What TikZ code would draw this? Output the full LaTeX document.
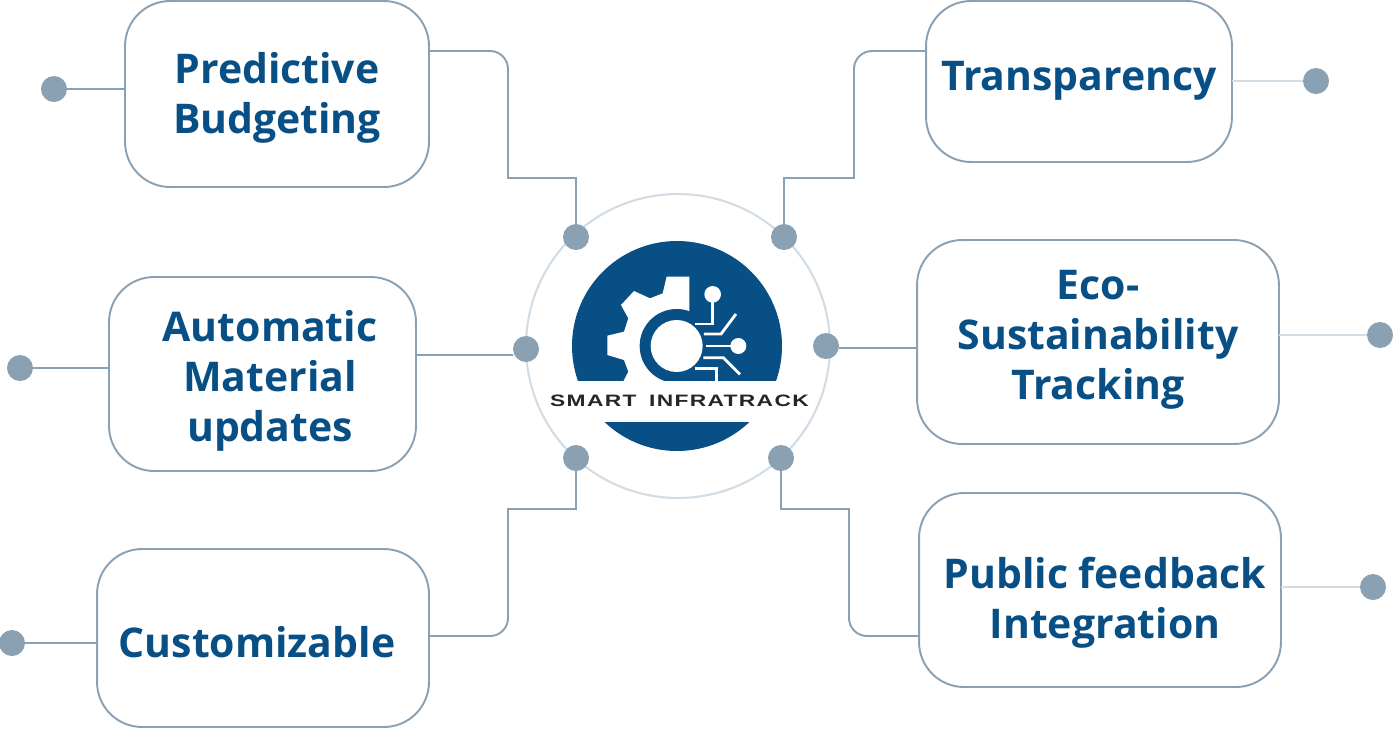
\documentclass[tikz,border=0pt]{standalone}
\usepackage{xcolor}
\usepackage{fontspec}
\setmainfont{Open Sans}
\newfontfamily\logofont[FakeStretch=1.38,LetterSpace=8]{Liberation Sans Bold}
\usetikzlibrary{positioning, calc}
\definecolor{itnavy}{HTML}{084F85}
\definecolor{itslate}{HTML}{8AA0B3}
\definecolor{itmist}{HTML}{D2DCE4}

\begin{document}
\begin{tikzpicture}[
  x=0.02cm, y=-0.02cm,
  featurebox/.style={rectangle, rounded corners=0.9cm, draw=itslate, line width=1.1pt, fill=white, outer sep=0pt},
  featuretext/.style={font=\fontsize{23.3}{28.45}\selectfont\bfseries, text=itnavy, align=center},
  pindot/.style={circle, fill=itslate, minimum size=0.52cm, inner sep=0pt, outer sep=0pt},
  link/.style={draw=itslate, line width=1.1pt},
  faintlink/.style={draw=itmist, line width=1.1pt},
  circuit/.style={draw=white, line width=1.6pt}
]
  \useasboundingbox (0,0) rectangle (1393,728);

  % Hub ring and its dots
  \node[circle, draw=itmist, line width=1.2pt, minimum size=6.08cm, inner sep=0pt] (hub) at (678,346) {};
  \node[pindot] (hubnw) at (576,237) {};
  \node[pindot] (hubne) at (784,237) {};
  \node[pindot] (hubw) at (526,349) {};
  \node[pindot] (hube) at (826,346) {};
  \node[pindot] (hubsw) at (576,458) {};
  \node[pindot] (hubse) at (781,458) {};

  % Logo in the middle of the ring
  \fill[itnavy] (677,346) circle (105);
  \begin{scope}[shift={(520,190)}, x=0.00667cm, y=-0.00667cm]
    \fill[white] (508,260) -- (440,260) -- (428,310) -- (390,325) -- (342,303) -- (303,345) -- (325,385)
      -- (312,425) -- (262,437) -- (262,495) -- (312,510) -- (325,545) -- (310,574) -- (440,574) -- (508,400) -- cycle;
    \fill[itnavy] (470,468) circle (111);
    \fill[white] (470,468) circle (78);
    \draw[circuit] (578,313) -- (578,402) -- (526,402);
    \draw[circuit] (648,372) -- (603,432) -- (552,432);
    \draw[circuit] (655,468) -- (558,468);
    \draw[circuit] (660,553) -- (610,503) -- (550,503);
    \draw[circuit] (590,574) -- (590,535) -- (525,535);
    \fill[white] (578,313) circle (25);
    \fill[white] (655,468) circle (24);
  \end{scope}
  \fill[white] (560,381) rectangle (795,422);
  \node[font=\logofont\fontsize{9.4}{10}\selectfont, text=black!85, inner sep=0pt] (logotext) at (679.5,401) {SMART\hspace{0.1cm} INFRATRACK};

  % Feature boxes, left side
  \node[featurebox, minimum width=6.08cm, minimum height=3.72cm] (budget) at (277,94) {};
  \node[featuretext] (budgettext) at (277,98) {Predictive\\Budgeting};
  \node[featurebox, minimum width=6.14cm, minimum height=3.88cm] (material) at (262.5,374) {};
  \node[featuretext] (materialtext) at (270,381) {Automatic\\Material\\updates};
  \node[featurebox, minimum width=6.64cm, minimum height=3.56cm] (custom) at (263,638) {};
  \node[featuretext] (customtext) at (257,642) {Customizable};

  % Feature boxes, right side
  \node[featurebox, minimum width=6.12cm, minimum height=3.22cm] (transparency) at (1079,81.5) {};
  \node[featuretext] (transparencytext) at (1079,81) {Transparency};
  \node[featurebox, minimum width=7.24cm, minimum height=4.08cm] (eco) at (1098,342) {};
  \node[featuretext] (ecotext) at (1098,340) {Eco-\\Sustainability\\Tracking};
  \node[featurebox, minimum width=7.24cm, minimum height=3.88cm] (public) at (1100,590) {};
  \node[featuretext] (publictext) at (1105,603) {Public feedback\\Integration};

  % Outer dots
  \node[pindot] (budgetdot) at (54,89) {};
  \node[pindot] (materialdot) at (20,368) {};
  \node[pindot] (customdot) at (12,643) {};
  \node[pindot] (transparencydot) at (1316,81) {};
  \node[pindot] (ecodot) at (1380,335) {};
  \node[pindot] (publicdot) at (1373,587) {};

  % Outer stubs
  \draw[link] (budgetdot) -- (budgetdot -| budget.west);
  \draw[link] (materialdot) -- (materialdot -| material.west);
  \draw[link] (customdot) -- (customdot -| custom.west);
  \draw[faintlink] (transparencydot) -- (transparencydot -| transparency.east);
  \draw[faintlink] (ecodot) -- (ecodot -| eco.east);
  \draw[faintlink] (publicdot) -- (publicdot -| public.east);

  % Connectors into the hub, only the first bend is rounded
  \draw[link, rounded corners=0.36cm] ([yshift=0.86cm]budget.east) -- (508,51)
    [sharp corners] -- (508,178) -| (hubnw.north);
  \draw[link, rounded corners=0.36cm] ([yshift=0.61cm]transparency.west) -- (854,51)
    [sharp corners] -- (854,178) -| (hubne.north);
  \draw[link, rounded corners=0.36cm] ([yshift=0.04cm]custom.east) -- (508,636)
    [sharp corners] -- (508,509) -| (hubsw.south);
  \draw[link, rounded corners=0.36cm] ([yshift=-0.92cm]public.west) -- (849,636)
    [sharp corners] -- (849,509) -| (hubse.south);
  \draw[link] ([yshift=0.38cm]material.east) -- (hubw.west |- 0,355);
  \draw[link] (eco.west |- 0,348) -- (hube.east |- 0,348);
\end{tikzpicture}
\end{document}
